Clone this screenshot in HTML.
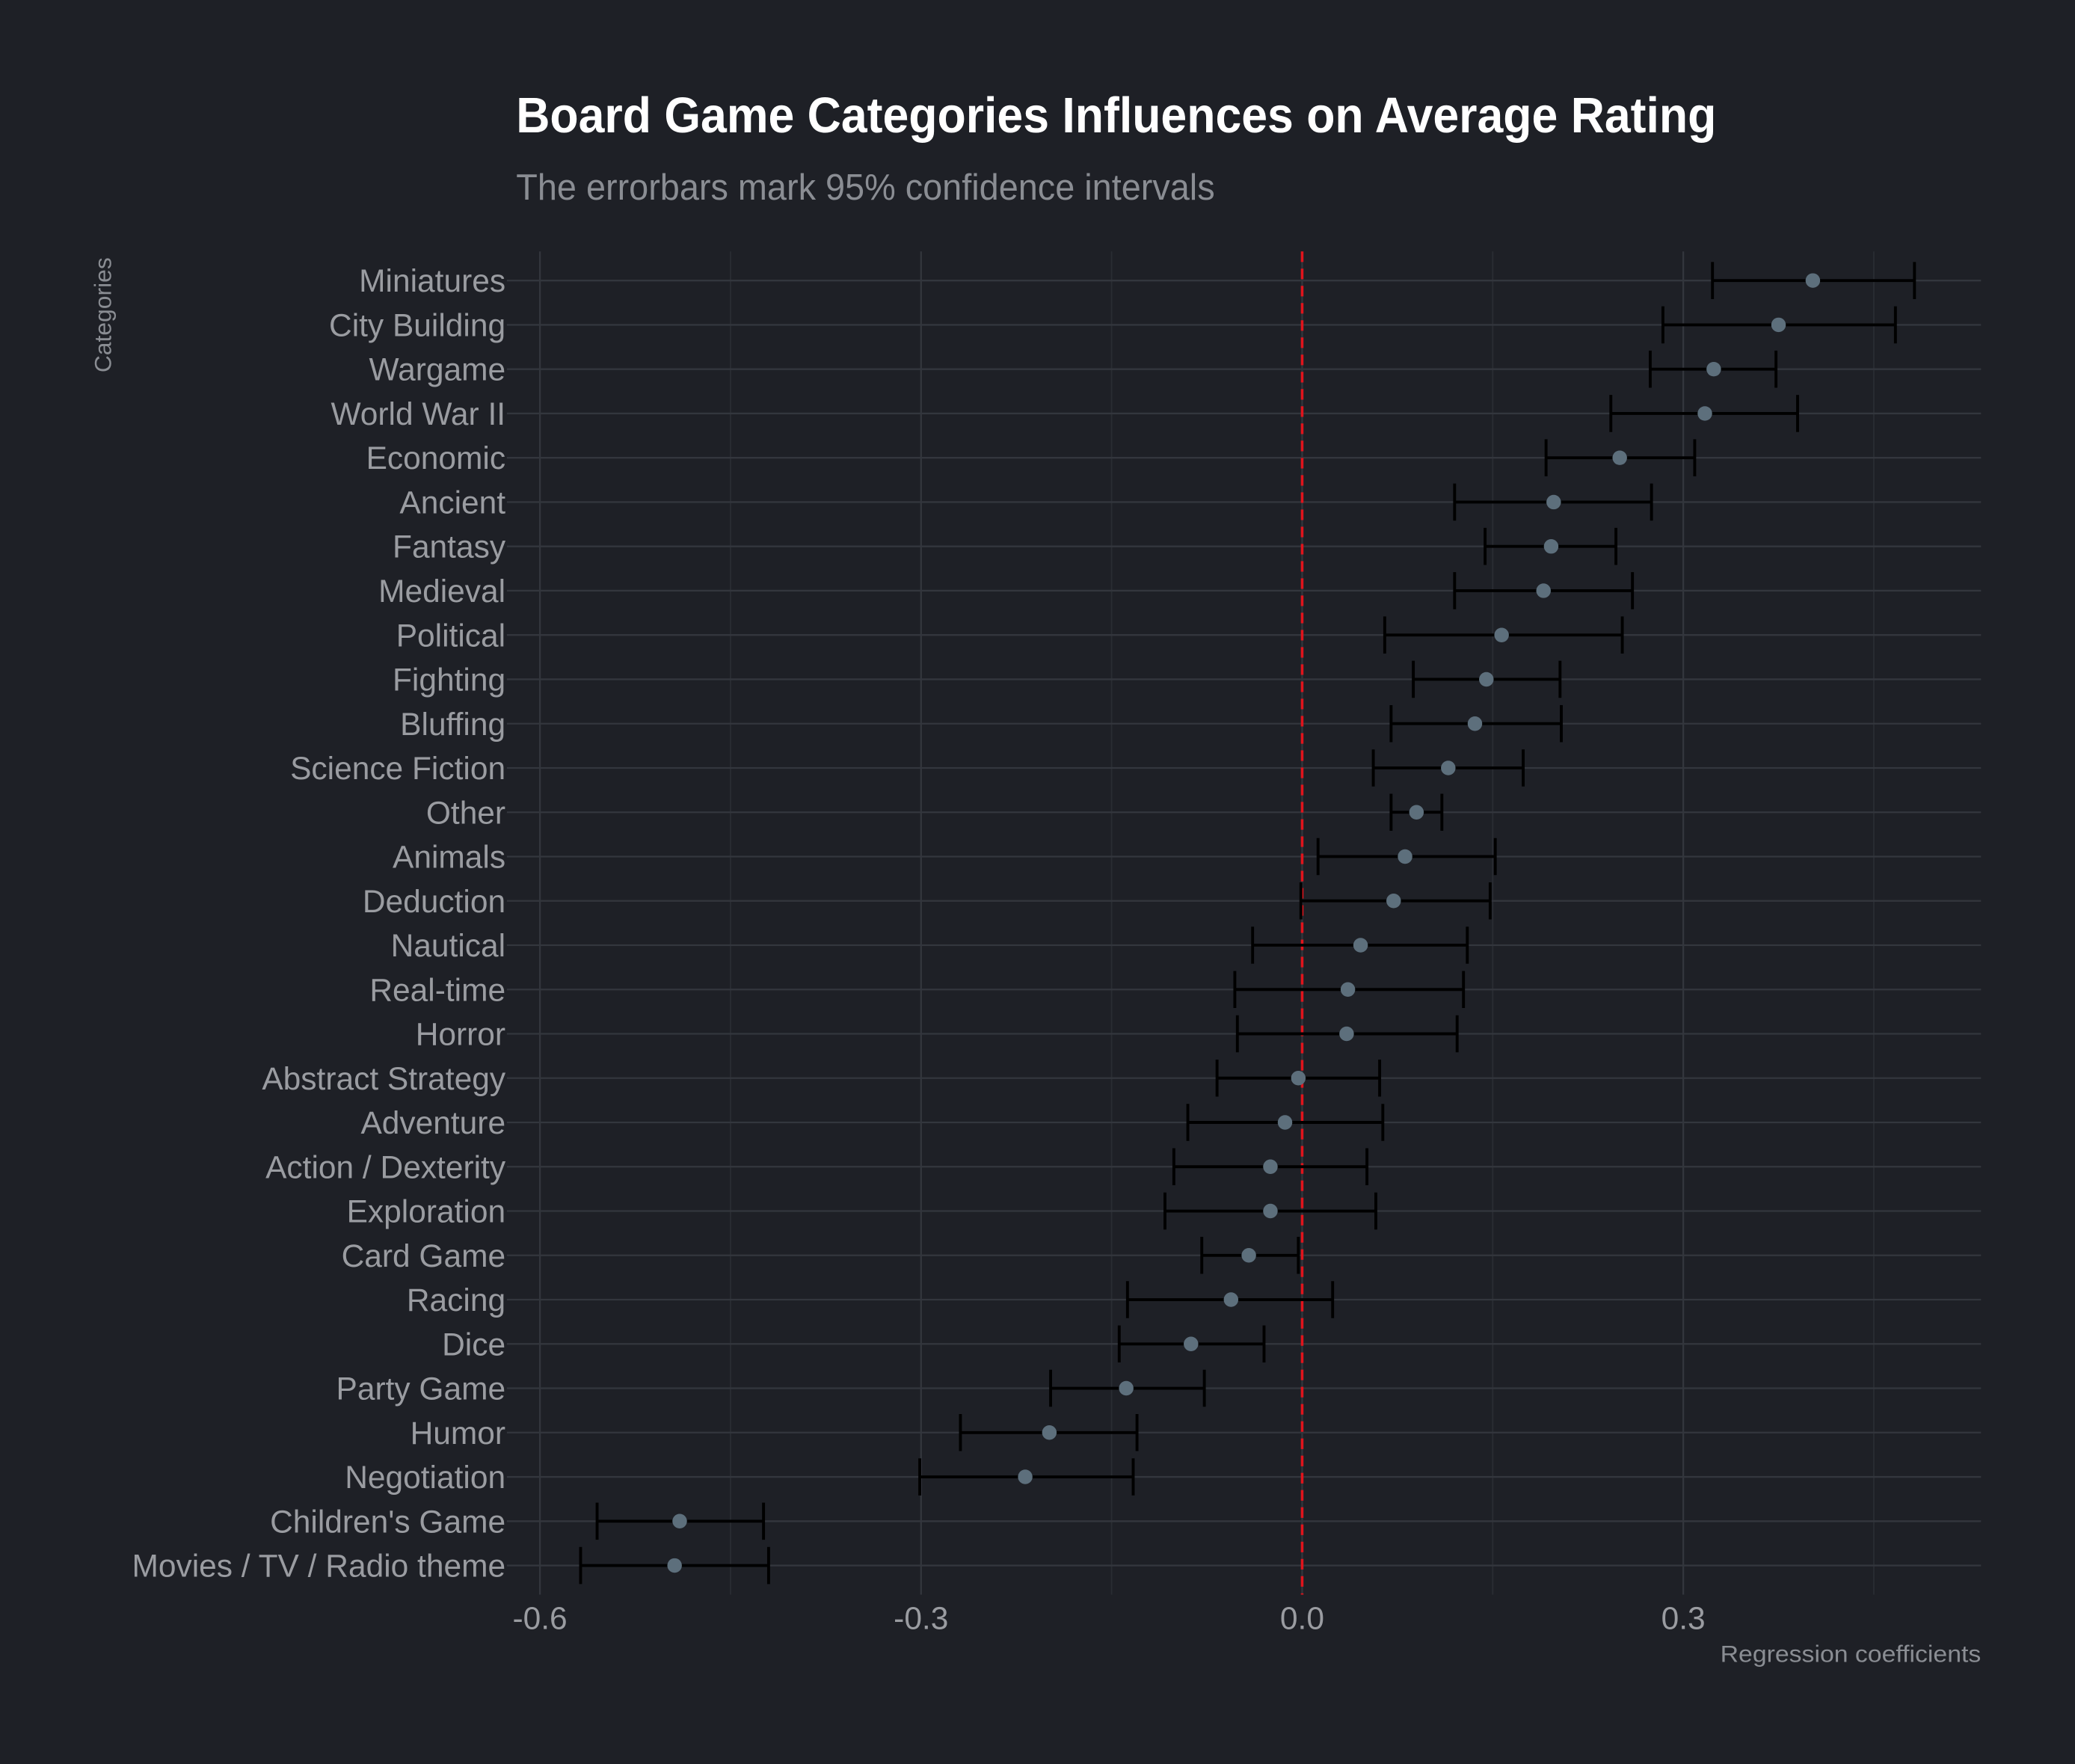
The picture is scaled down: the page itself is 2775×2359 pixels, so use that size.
<!DOCTYPE html>
<html><head><meta charset="utf-8"><style>
html,body{margin:0;padding:0;background:#1e2026;}
svg{display:block;}
text{font-family:"Liberation Sans Narrow","Liberation Sans",sans-serif;}
</style></head><body>
<svg id="chart" width="2775" height="2359" viewBox="0 0 1568 1333" xmlns="http://www.w3.org/2000/svg">
<rect x="0" y="0" width="1568" height="1333" fill="#1e2026"/>
<text x="390" y="100" font-size="38" font-weight="bold" fill="#ffffff" textLength="907" lengthAdjust="spacingAndGlyphs">Board Game Categories Influences on Average Rating</text>
<text x="390" y="151" font-size="28" fill="#8a8d93" textLength="528" lengthAdjust="spacingAndGlyphs">The errorbars mark 95% confidence intervals</text>
<text transform="translate(84,238) rotate(-90)" text-anchor="middle" font-size="18" fill="#8a8d93">Categories</text>
<text x="1300" y="1256" font-size="18" fill="#8a8d93" textLength="197" lengthAdjust="spacingAndGlyphs">Regression coefficients</text>
<g id="grid"></g><g id="marks"></g><g id="labels"></g>
</svg>
<script>
const categories=["Miniatures","City Building","Wargame","World War II","Economic","Ancient","Fantasy","Medieval","Political","Fighting","Bluffing","Science Fiction","Other","Animals","Deduction","Nautical","Real-time","Horror","Abstract Strategy","Adventure","Action / Dexterity","Exploration","Card Game","Racing","Dice","Party Game","Humor","Negotiation","Children's Game","Movies / TV / Radio theme"];
const estimates=[0.402,0.375,0.324,0.317,0.25,0.198,0.196,0.19,0.157,0.145,0.136,0.115,0.09,0.081,0.072,0.046,0.036,0.035,-0.003,-0.0135,-0.025,-0.025,-0.042,-0.056,-0.0875,-0.1385,-0.199,-0.218,-0.49,-0.494];
const lowers=[0.323,0.284,0.274,0.243,0.192,0.12,0.144,0.12,0.065,0.0875,0.07,0.056,0.07,0.0125,-0.001,-0.039,-0.053,-0.051,-0.067,-0.09,-0.101,-0.108,-0.079,-0.1375,-0.144,-0.198,-0.269,-0.301,-0.555,-0.568];
const uppers=[0.482,0.467,0.373,0.39,0.309,0.275,0.247,0.26,0.252,0.203,0.204,0.174,0.11,0.152,0.148,0.13,0.127,0.122,0.061,0.0635,0.051,0.058,-0.003,0.024,-0.03,-0.077,-0.13,-0.133,-0.424,-0.42];
const majorTicks=[-0.6,-0.3,0.0,0.3];
const tickLabels=["-0.6","-0.3","0.0","0.3"];
const minorTicks=[-0.45,-0.15,0.15,0.45];
const NS="http://www.w3.org/2000/svg";
const X0=984,XS=960,Y0=212,YEND=1183;
const xs=v=>X0+v*XS;
const ys=i=>Y0+i*(YEND-Y0)/(categories.length-1);
const PL=383,PR=1497,PT=190,PB=1205;
function mk(tag,attrs,parent){const e=document.createElementNS(NS,tag);for(const k in attrs)e.setAttribute(k,attrs[k]);document.getElementById(parent).appendChild(e);return e;}
minorTicks.forEach(t=>{const l=mk('line',{x1:xs(t),x2:xs(t),y1:PT,y2:PB,stroke:'#2a2d33','stroke-width':1},'grid');

});
majorTicks.forEach((t,i)=>{const l=mk('line',{x1:xs(t),x2:xs(t),y1:PT,y2:PB,stroke:'#33363d','stroke-width':1.3},'grid');


const tx=mk('text',{x:xs(t),y:1231,'text-anchor':'middle','font-size':24,fill:'#9a9ca1'},'labels');tx.textContent=tickLabels[i];

});
categories.forEach((c,i)=>{const y=ys(i);
const g=mk('line',{x1:PL,x2:PR,y1:y,y2:y,stroke:'#33363d','stroke-width':1.3},'grid');


const t=mk('text',{x:382,y:y+8.5,'text-anchor':'end','font-size':24,fill:'#9a9ca1'},'labels');t.textContent=c;

});
const zl=mk('line',{x1:xs(0),x2:xs(0),y1:PT,y2:PB,stroke:'#e0141c','stroke-width':2,'stroke-dasharray':'8,5'},'marks');


categories.forEach((c,i)=>{const y=ys(i),a=xs(lowers[i]),b=xs(uppers[i]);
const g=mk('g',{},'marks');


[[a,y,b,y],[a,y-14,a,y+14],[b,y-14,b,y+14]].forEach(p=>{const l=document.createElementNS(NS,'line');
l.setAttribute('x1',p[0]);l.setAttribute('y1',p[1]);l.setAttribute('x2',p[2]);l.setAttribute('y2',p[3]);
l.setAttribute('stroke','#000');l.setAttribute('stroke-width',2.2);g.appendChild(l);});
const p=mk('circle',{cx:xs(estimates[i]),cy:y,r:5.5,fill:'#5d6f7c'},'marks');

});
</script>
</body></html>
